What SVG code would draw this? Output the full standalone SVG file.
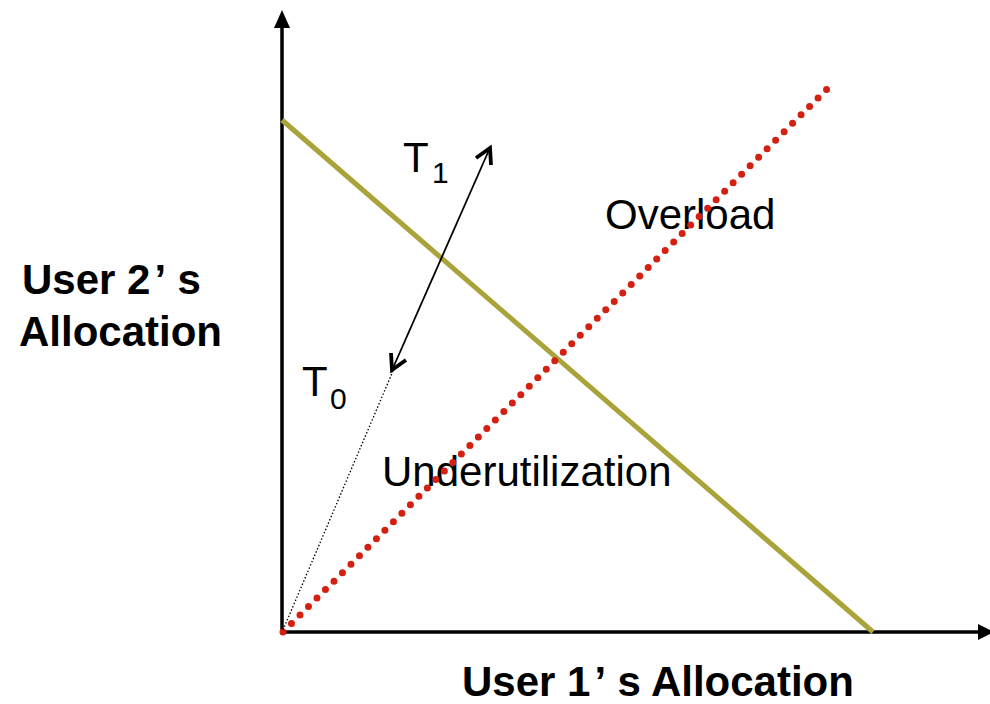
<svg xmlns="http://www.w3.org/2000/svg" width="990" height="704" viewBox="0 0 990 704">
<style>
text{font-family:"Liberation Sans",Arial,sans-serif;fill:#000}
.b{font-weight:bold;font-size:42px}
.n{font-size:42px}
.s{font-size:30px}
</style>
<rect width="990" height="704" fill="#fff"/>
<g id="axes">
<line x1="282" y1="633" x2="282" y2="28" stroke="#000" stroke-width="3.5"/>
<path d="M282,10 L290,28 L274,28 z" fill="#000"/>
<line x1="281" y1="632" x2="980" y2="632" stroke="#000" stroke-width="3.5"/>
<path d="M994,632 L978,624 L978,640 z" fill="#000"/>
</g>
<g id="labels">
<text class="b" x="22" y="294">User 2<tspan dx="4">’</tspan><tspan dx="2"> s</tspan></text>
<text class="b" x="19" y="346">Allocation</text>
<text class="b" x="462" y="696">User 1<tspan dx="4">’</tspan><tspan dx="2"> s Allocation</tspan></text>
<text class="n" x="605" y="229">Overload</text>
<text class="n" x="382" y="486">Underutilization</text>
<text class="n" x="403" y="172">T</text>
<text class="s" x="432" y="183">1</text>
<text class="n" x="302" y="396">T</text>
<text class="s" x="330" y="409">0</text>
</g>
<g id="connectors">
<line x1="282" y1="120" x2="873" y2="632" stroke="#A9A33A" stroke-width="5"/>
<line x1="283" y1="632" x2="828" y2="88" stroke="#D42010" stroke-width="7" stroke-linecap="round" stroke-dasharray="0 12"/>
<line x1="283" y1="630" x2="393" y2="371" stroke="#000" stroke-width="1.3" stroke-dasharray="1.5 2"/>
<line x1="393" y1="368" x2="489" y2="150" stroke="#000" stroke-width="1.8"/>
<path d="M476,158 L490,148 L491,165" fill="none" stroke="#000" stroke-width="3.8" stroke-linejoin="miter"/>
<path d="M406,360 L392,370 L391,353" fill="none" stroke="#000" stroke-width="3.8" stroke-linejoin="miter"/>
</g>
</svg>
